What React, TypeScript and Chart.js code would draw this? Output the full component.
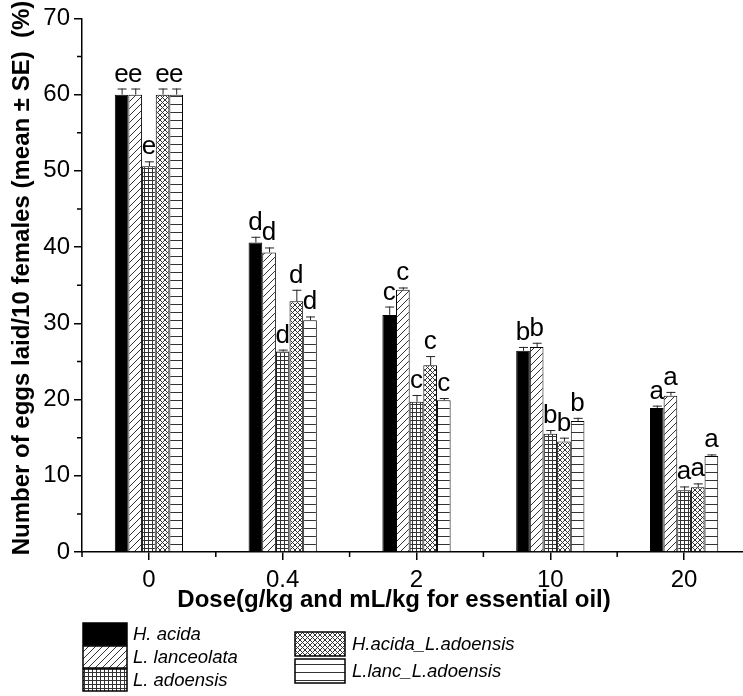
import React, { useEffect, useRef } from 'react';
import { Chart, registerables } from 'chart.js';

Chart.register(...registerables);

// ---------- data ----------
const doses = ['0', '0.4', '2', '10', '20'];
const seriesNames = ['H. acida', 'L. lanceolata', 'L. adoensis', 'H.acida_L.adoensis', 'L.lanc_L.adoensis'];

const hAcida = [60.0, 40.6, 31.1, 26.4, 18.9];
const hAcidaErr = [0.8, 0.75, 1.1, 0.5, 0.3];
const lLanceolata = [60.0, 39.3, 34.4, 26.9, 20.5];
const lLanceolataErr = [0.8, 0.65, 0.3, 0.55, 0.5];
const lAdoensis = [50.6, 26.3, 19.7, 15.5, 8.1];
const lAdoensisErr = [0.65, 0.25, 0.9, 0.5, 0.5];
const hAcidaLAdo = [60.0, 32.9, 24.5, 14.5, 8.5];
const hAcidaLAdoErr = [0.8, 1.5, 1.2, 0.5, 0.5];
const lLancLAdo = [60.0, 30.4, 19.9, 17.2, 12.6];
const lLancLAdoErr = [0.8, 0.5, 0.3, 0.4, 0.2];

// significance letters per dose group
const groupLetters = ['e', 'd', 'c', 'b', 'a'];

const yTicksMajor = [0, 10, 20, 30, 40, 50, 60, 70];
const yMinorTicks = [5, 15, 25, 35, 45, 55, 65];

const yTitle = 'Number of eggs laid/10 females (mean \u00B1 SE)  (%)';
const xTitle = 'Dose(g/kg and mL/kg for essential oil)';

const FONT = '"Liberation Sans", Arial, Helvetica, sans-serif';

// ---------- patterns ----------
type Kind = 'solid' | 'diag' | 'grid' | 'cross' | 'horiz';
const kinds: Kind[] = ['solid', 'diag', 'grid', 'cross', 'horiz'];

function makePattern(ctx: CanvasRenderingContext2D, kind: Kind): CanvasPattern | string {
  if (kind === 'solid') return '#000000';
  const c = document.createElement('canvas');
  let s = 8;
  if (kind === 'diag') s = 7;
  if (kind === 'grid') s = 4;
  if (kind === 'cross') s = 5;
  if (kind === 'horiz') s = 8;
  c.width = s;
  c.height = s;
  const g = c.getContext('2d')!;
  g.fillStyle = '#ffffff';
  g.fillRect(0, 0, s, s);
  g.strokeStyle = '#333333';
  g.lineWidth = 1;
  g.beginPath();
  if (kind === 'diag') {
    g.moveTo(-1, s + 1);
    g.lineTo(s + 1, -1);
    g.moveTo(-1, 1);
    g.lineTo(1, -1);
    g.moveTo(s - 1, s + 1);
    g.lineTo(s + 1, s - 1);
  } else if (kind === 'grid') {
    g.moveTo(0.5, 0);
    g.lineTo(0.5, s);
    g.moveTo(0, 0.5);
    g.lineTo(s, 0.5);
  } else if (kind === 'cross') {
    g.moveTo(0, 0);
    g.lineTo(s, s);
    g.moveTo(0, s);
    g.lineTo(s, 0);
  } else if (kind === 'horiz') {
    g.moveTo(0, 0.5);
    g.lineTo(s, 0.5);
  }
  g.stroke();
  return ctx.createPattern(c, 'repeat')!;
}

const valueSeries = [hAcida, lLanceolata, lAdoensis, hAcidaLAdo, lLancLAdo];
const errSeries = [hAcidaErr, lLanceolataErr, lAdoensisErr, hAcidaLAdoErr, lLancLAdoErr];

// ---------- custom drawing plugin ----------
const decorPlugin = {
  id: 'decor',
  afterDatasetsDraw(chart: any) {
    const ctx: CanvasRenderingContext2D = chart.ctx;
    const yScale = chart.scales.y;
    ctx.save();
    chart.data.datasets.forEach((ds: any, di: number) => {
      const meta = chart.getDatasetMeta(di);
      meta.data.forEach((bar: any, i: number) => {
        const v = ds.data[i];
        const e = ds.errors[i];
        const x = bar.x;
        const yTop = yScale.getPixelForValue(v);
        const yCap = yScale.getPixelForValue(v + e);
        ctx.strokeStyle = '#222';
        ctx.lineWidth = 1;
        ctx.beginPath();
        ctx.moveTo(x + 0.5, yTop);
        ctx.lineTo(x + 0.5, yCap);
        ctx.moveTo(x - 4, yCap + 0.5);
        ctx.lineTo(x + 5, yCap + 0.5);
        ctx.stroke();
        ctx.fillStyle = '#000';
        ctx.font = `26px ${FONT}`;
        ctx.textAlign = 'center';
        ctx.textBaseline = 'alphabetic';
        ctx.fillText(ds.letters[i], x, yCap - 7);
      });
    });
    ctx.restore();
  },
  afterDraw(chart: any) {
    const ctx: CanvasRenderingContext2D = chart.ctx;
    const xScale = chart.scales.x;
    const yScale = chart.scales.y;
    const area = chart.chartArea;
    ctx.save();
    ctx.strokeStyle = '#000';
    ctx.lineWidth = 1.5;
    ctx.beginPath();
    yMinorTicks.forEach((v) => {
      const py = yScale.getPixelForValue(v);
      ctx.moveTo(area.left - 5, py);
      ctx.lineTo(area.left, py);
    });
    const step = xScale.getPixelForValue(1) - xScale.getPixelForValue(0);
    for (let i = 0; i <= doses.length; i++) {
      const px = xScale.getPixelForValue(i) - step / 2;
      ctx.moveTo(px, area.bottom);
      ctx.lineTo(px, area.bottom + 5);
    }
    ctx.stroke();

    ctx.fillStyle = '#000';
    ctx.font = `bold 24px ${FONT}`;
    ctx.textAlign = 'center';
    ctx.textBaseline = 'middle';
    ctx.save();
    ctx.translate(22, 278);
    ctx.rotate(-Math.PI / 2);
    ctx.fillText(yTitle, 0, 0);
    ctx.restore();

    ctx.textBaseline = 'alphabetic';
    ctx.fillText(xTitle, 394, 607);

    const cols = [
      { boxX: 83, boxW: 44, boxH: 22, textX: 133, rows: [623, 646, 669], items: [0, 1, 2] },
      { boxX: 295, boxW: 50, boxH: 24, textX: 352, rows: [632, 659], items: [3, 4] },
    ];
    cols.forEach((col) => {
      col.items.forEach((di, r) => {
        const ds = chart.data.datasets[di];
        const y = col.rows[r];
        ctx.fillStyle = ds.backgroundColor;
        ctx.fillRect(col.boxX, y, col.boxW, col.boxH);
        ctx.strokeStyle = '#000';
        ctx.lineWidth = 1.5;
        ctx.strokeRect(col.boxX, y, col.boxW, col.boxH);
        ctx.fillStyle = '#000';
        ctx.font = `italic 18.5px ${FONT}`;
        ctx.textAlign = 'left';
        ctx.textBaseline = 'middle';
        ctx.fillText(ds.label, col.textX, y + col.boxH / 2 + 1);
      });
    });
    ctx.restore();
  },
};

export default function App() {
  const ref = useRef<HTMLCanvasElement | null>(null);

  useEffect(() => {
    const canvas = ref.current!;
    const ctx = canvas.getContext('2d')!;
    const datasets = seriesNames.map((name, i) => ({
      label: name,
      data: valueSeries[i],
      errors: errSeries[i],
      letters: groupLetters,
      backgroundColor: makePattern(ctx, kinds[i]),
      borderColor: '#000',
      borderWidth: 1,
      barPercentage: 1,
      categoryPercentage: 0.51,
    }));

    const chart = new Chart(ctx, {
      type: 'bar',
      data: { labels: doses, datasets: datasets as any },
      options: {
        responsive: false,
        animation: false,
        layout: { padding: { left: 0, right: 19, top: 15, bottom: 76 } },
        plugins: {
          legend: { display: false },
          tooltip: { enabled: false },
          title: { display: false },
        },
        scales: {
          x: {
            type: 'category',
            offset: true,
            grid: {
              display: true,
              drawOnChartArea: false,
              drawTicks: true,
              tickLength: 8,
              color: '#000',
              lineWidth: 1.5,
              offset: false,
            },
            border: { display: true, color: '#000', width: 1.5 },
            ticks: {
              color: '#000',
              font: { size: 24, family: FONT },
              padding: 6,
              maxRotation: 0,
              autoSkip: false,
            },
            afterFit: (s: any) => {
              s.height = 68;
            },
          },
          y: {
            min: 0,
            max: 70,
            afterBuildTicks: (s: any) => {
              s.ticks = yTicksMajor.map((v) => ({ value: v }));
            },
            grid: {
              display: true,
              drawOnChartArea: false,
              drawTicks: true,
              tickLength: 8,
              color: '#000',
              lineWidth: 1.5,
            },
            border: { display: true, color: '#000', width: 1.5 },
            ticks: {
              color: '#000',
              font: { size: 24, family: FONT },
              padding: 4,
            },
            afterFit: (s: any) => {
              s.width = 82;
            },
          },
        },
      },
      plugins: [decorPlugin],
    });
    return () => chart.destroy();
  }, []);

  return (
    <div
      style={{
        position: 'absolute',
        left: 0,
        top: 0,
        width: 743,
        height: 696,
        overflow: 'hidden',
        background: '#fff',
      }}
    >
      <canvas ref={ref} width={770} height={696} style={{ display: 'block', width: 770, height: 696 }} />
    </div>
  );
}
